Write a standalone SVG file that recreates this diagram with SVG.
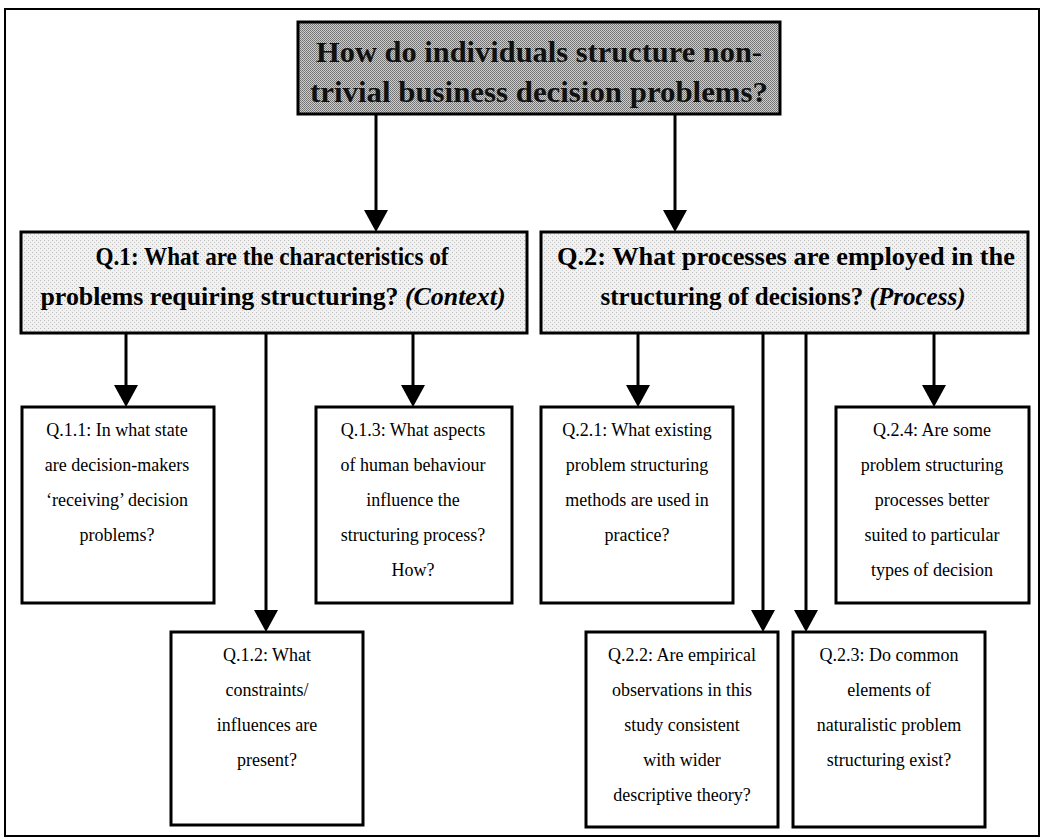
<svg xmlns="http://www.w3.org/2000/svg" width="1043" height="839" viewBox="0 0 1043 839">
  <defs>
    <!-- halftone-style fills for the header boxes -->
    <pattern id="dither-dark" width="2" height="2" patternUnits="userSpaceOnUse">
      <rect width="2" height="2" fill="#cfcfcf"/>
      <rect x="0" y="0" width="1" height="1" fill="#6e6e6e"/>
      <rect x="1" y="1" width="1" height="1" fill="#7c7c7c"/>
    </pattern>
    <pattern id="dither-light" width="4" height="4" patternUnits="userSpaceOnUse">
      <rect width="4" height="4" fill="#f1f1f1"/>
      <rect x="0" y="0" width="1" height="1" fill="#b9b9b9"/>
      <rect x="2" y="2" width="1" height="1" fill="#c9c9c9"/>
    </pattern>
    <marker id="arrowhead" viewBox="0 0 22 24" refX="0" refY="12" markerWidth="22" markerHeight="24" markerUnits="userSpaceOnUse" orient="auto">
      <path d="M0,0 L22,12 L0,24 Z" fill="#000"/>
    </marker>
  </defs>
  <style>
    .frame { fill: #fff; stroke: #000; stroke-width: 2; }
    .box { fill: #fff; stroke: #000; stroke-width: 3; }
    .title-box { fill: url(#dither-dark); stroke: #000; stroke-width: 3; }
    .head-box { fill: url(#dither-light); stroke: #000; stroke-width: 3; }
    .title { font-family: "Liberation Serif", "DejaVu Serif", serif; font-weight: bold; font-size: 30px; fill: #111; text-anchor: middle; }
    .head { font-family: "Liberation Serif", "DejaVu Serif", serif; font-weight: bold; font-size: 25px; fill: #000; text-anchor: middle; }
    .head .em { font-style: italic; }
    .q { font-family: "Liberation Serif", "DejaVu Serif", serif; font-size: 18px; fill: #000; text-anchor: middle; }
    .conn { stroke: #000; stroke-width: 3; fill: none; marker-end: url(#arrowhead); }
  </style>

  <!-- outer frame -->
  <rect class="frame" x="5" y="9" width="1034" height="827"/>

  <!-- connectors -->
  <g id="connectors">
    <path class="conn" d="M376,114 V210"/>
    <path class="conn" d="M675,114 V210"/>
    <path class="conn" d="M126,333 V385"/>
    <path class="conn" d="M266,333 V610"/>
    <path class="conn" d="M413,333 V385"/>
    <path class="conn" d="M638,333 V385"/>
    <path class="conn" d="M763,333 V610"/>
    <path class="conn" d="M806,333 V610"/>
    <path class="conn" d="M934,333 V385"/>
  </g>

  <!-- main research question -->
  <g id="main-question">
    <rect class="title-box" x="298" y="22" width="482" height="92"/>
    <text class="title" x="539" y="62" textLength="446" lengthAdjust="spacingAndGlyphs">How do individuals structure non-</text>
    <text class="title" x="539" y="102" textLength="458" lengthAdjust="spacingAndGlyphs">trivial business decision problems?</text>
  </g>

  <!-- Q.1 context -->
  <g id="q1">
    <rect class="head-box" x="21" y="232" width="506" height="101"/>
    <text class="head" x="272" y="265" textLength="353" lengthAdjust="spacingAndGlyphs">Q.1: What are the characteristics of</text>
    <text class="head" x="273" y="305" textLength="465" lengthAdjust="spacingAndGlyphs">problems requiring structuring? <tspan class="em">(Context)</tspan></text>
  </g>

  <!-- Q.2 process -->
  <g id="q2">
    <rect class="head-box" x="541" y="232" width="487" height="101"/>
    <text class="head" x="786" y="265" textLength="458" lengthAdjust="spacingAndGlyphs">Q.2: What processes are employed in the</text>
    <text class="head" x="783" y="305" textLength="365" lengthAdjust="spacingAndGlyphs">structuring of decisions? <tspan class="em">(Process)</tspan></text>
  </g>

  <g id="q1-1">
    <rect class="box" x="22" y="407" width="192" height="196"/>
    <text class="q" x="117" y="436">Q.1.1: In what state</text>
    <text class="q" x="117" y="471">are decision-makers</text>
    <text class="q" x="117" y="506">‘receiving’ decision</text>
    <text class="q" x="117" y="541">problems?</text>
  </g>

  <g id="q1-2">
    <rect class="box" x="171" y="632" width="192" height="193"/>
    <text class="q" x="267" y="661">Q.1.2: What</text>
    <text class="q" x="267" y="696">constraints/</text>
    <text class="q" x="267" y="731">influences are</text>
    <text class="q" x="267" y="766">present?</text>
  </g>

  <g id="q1-3">
    <rect class="box" x="316" y="407" width="196" height="196"/>
    <text class="q" x="413" y="436">Q.1.3: What aspects</text>
    <text class="q" x="413" y="471">of human behaviour</text>
    <text class="q" x="413" y="506">influence the</text>
    <text class="q" x="413" y="541">structuring process?</text>
    <text class="q" x="413" y="576">How?</text>
  </g>

  <g id="q2-1">
    <rect class="box" x="541" y="407" width="192" height="196"/>
    <text class="q" x="637" y="436">Q.2.1: What existing</text>
    <text class="q" x="637" y="471">problem structuring</text>
    <text class="q" x="637" y="506">methods are used in</text>
    <text class="q" x="637" y="541">practice?</text>
  </g>

  <g id="q2-2">
    <rect class="box" x="586" y="632" width="192" height="195"/>
    <text class="q" x="682" y="661">Q.2.2: Are empirical</text>
    <text class="q" x="682" y="696">observations in this</text>
    <text class="q" x="682" y="731">study consistent</text>
    <text class="q" x="682" y="766">with wider</text>
    <text class="q" x="682" y="801">descriptive theory?</text>
  </g>

  <g id="q2-3">
    <rect class="box" x="793" y="632" width="192" height="195"/>
    <text class="q" x="889" y="661">Q.2.3: Do common</text>
    <text class="q" x="889" y="696">elements of</text>
    <text class="q" x="889" y="731">naturalistic problem</text>
    <text class="q" x="889" y="766">structuring exist?</text>
  </g>

  <g id="q2-4">
    <rect class="box" x="836" y="407" width="193" height="196"/>
    <text class="q" x="932" y="436">Q.2.4: Are some</text>
    <text class="q" x="932" y="471">problem structuring</text>
    <text class="q" x="932" y="506">processes better</text>
    <text class="q" x="932" y="541">suited to particular</text>
    <text class="q" x="932" y="576">types of decision</text>
  </g>
</svg>
